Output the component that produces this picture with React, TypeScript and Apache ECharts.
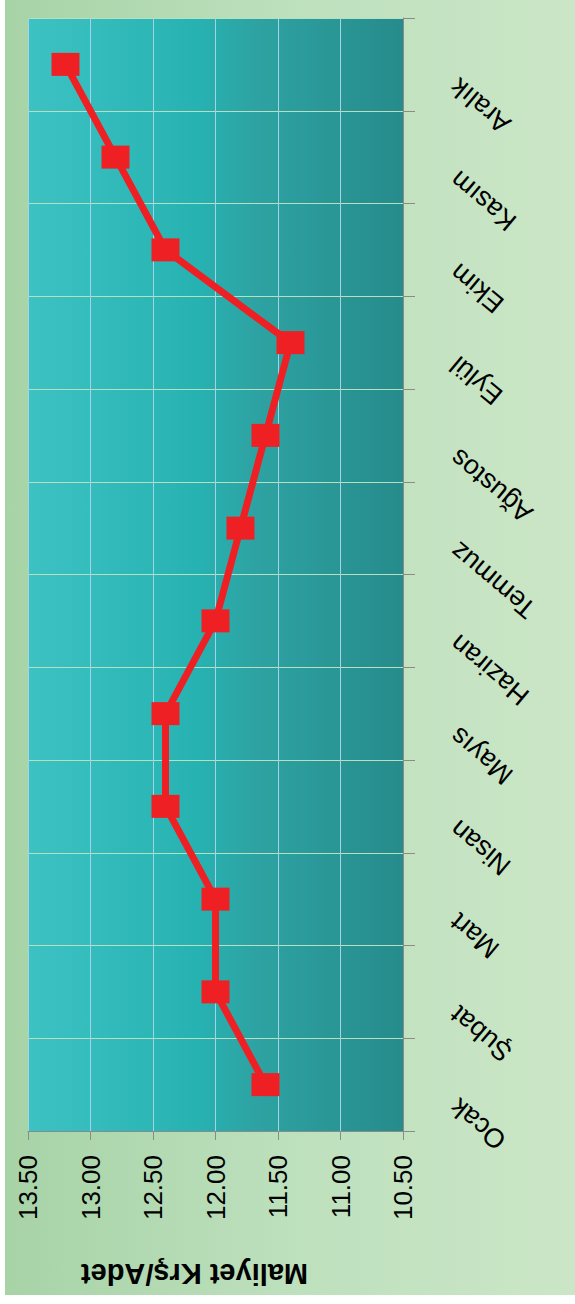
import React, { useEffect, useRef } from "react";
import * as echarts from "echarts";

const months = ["Ocak", "Şubat", "Mart", "Nisan", "Mayıs", "Haziran", "Temmuz", "Ağustos", "Eylül", "Ekim", "Kasım", "Aralık"];
const costs = [11.6, 12.0, 12.0, 12.4, 12.4, 12.0, 11.8, 11.6, 11.4, 12.4, 12.8, 13.2];
const valueMin = 10.5;
const valueMax = 13.5;
const valueStep = 0.5;
const axisTitle = "Maliyet Krş/Adet";

const W = 570;
const H = 1295;

export default function App() {
  const ref = useRef<HTMLDivElement>(null);
  useEffect(() => {
    if (!ref.current) return;
    const chart = echarts.init(ref.current, null, { renderer: "svg" });
    const font = "'Liberation Sans', Arial, sans-serif";
    chart.setOption({
      animation: false,
      graphic: [
        {
          type: "rect",
          z: -100,
          silent: true,
          shape: { x: 0, y: 0, width: W, height: H },
          style: {
            fill: {
              type: "linear", x: 0, y: 0, x2: 1, y2: 0,
              colorStops: [
                { offset: 0, color: "#a7d3a7" },
                { offset: 0.5, color: "#bde0bd" },
                { offset: 1, color: "#cbe6c6" },
              ],
            },
          },
        },
      ],
      grid: {
        left: 23,
        right: 172,
        top: 18,
        bottom: 164,
        show: true,
        borderWidth: 0,
        z: -1,
        backgroundColor: {
          type: "linear", x: 0, y: 0, x2: 1, y2: 0,
          colorStops: [
            { offset: 0, color: "#3dc2c2" },
            { offset: 0.45, color: "#27b2b2" },
            { offset: 0.6, color: "#2ea3a3" },
            { offset: 1, color: "#268b8b" },
          ],
        },
      },
      xAxis: {
        type: "value",
        inverse: true,
        min: valueMin,
        max: valueMax,
        interval: valueStep,
        position: "bottom",
        z: 2,
        axisLine: { show: true, lineStyle: { color: "#8a8a8a", width: 1 } },
        axisTick: { show: true, length: 9, lineStyle: { color: "#8a8a8a" } },
        splitLine: { show: true, lineStyle: { color: "#a3d3e6", width: 1 } },
        axisLabel: {
          rotate: 90,
          margin: 24,
          fontSize: 26,
          fontFamily: font,
          color: "#000",
          formatter: (v: number) => v.toFixed(2),
        },
        name: axisTitle,
        nameLocation: "middle",
        nameRotate: 180,
        nameGap: 128,
        nameTextStyle: {
          fontSize: 29,
          fontWeight: "bold",
          fontFamily: font,
          color: "#000",
          padding: [0, 0, 0, 42],
        },
      },
      yAxis: {
        type: "category",
        data: months,
        position: "right",
        boundaryGap: true,
        z: 2,
        axisLine: { show: true, lineStyle: { color: "#8a8a8a", width: 1 } },
        axisTick: { show: true, length: 12, alignWithLabel: false, lineStyle: { color: "#8a8a8a" } },
        splitLine: { show: true, lineStyle: { color: "#b6e0c2", width: 1 } },
        axisLabel: {
          interval: 0,
          rotate: 140,
          margin: 67,
          align: "right",
          verticalAlign: "bottom",
          lineHeight: 50,
          fontSize: 27,
          fontFamily: font,
          color: "#000",
        },
      },
      series: [
        {
          type: "line",
          data: costs,
          symbol: "rect",
          symbolSize: [28, 23],
          itemStyle: { color: "#ee2024" },
          lineStyle: { color: "#ee2024", width: 7 },
          z: 5,
        },
      ],
    });
    return () => chart.dispose();
  }, []);
  return (
    <div
      ref={ref}
      style={{ position: "absolute", left: 5, top: 0, width: W, height: H }}
    />
  );
}
